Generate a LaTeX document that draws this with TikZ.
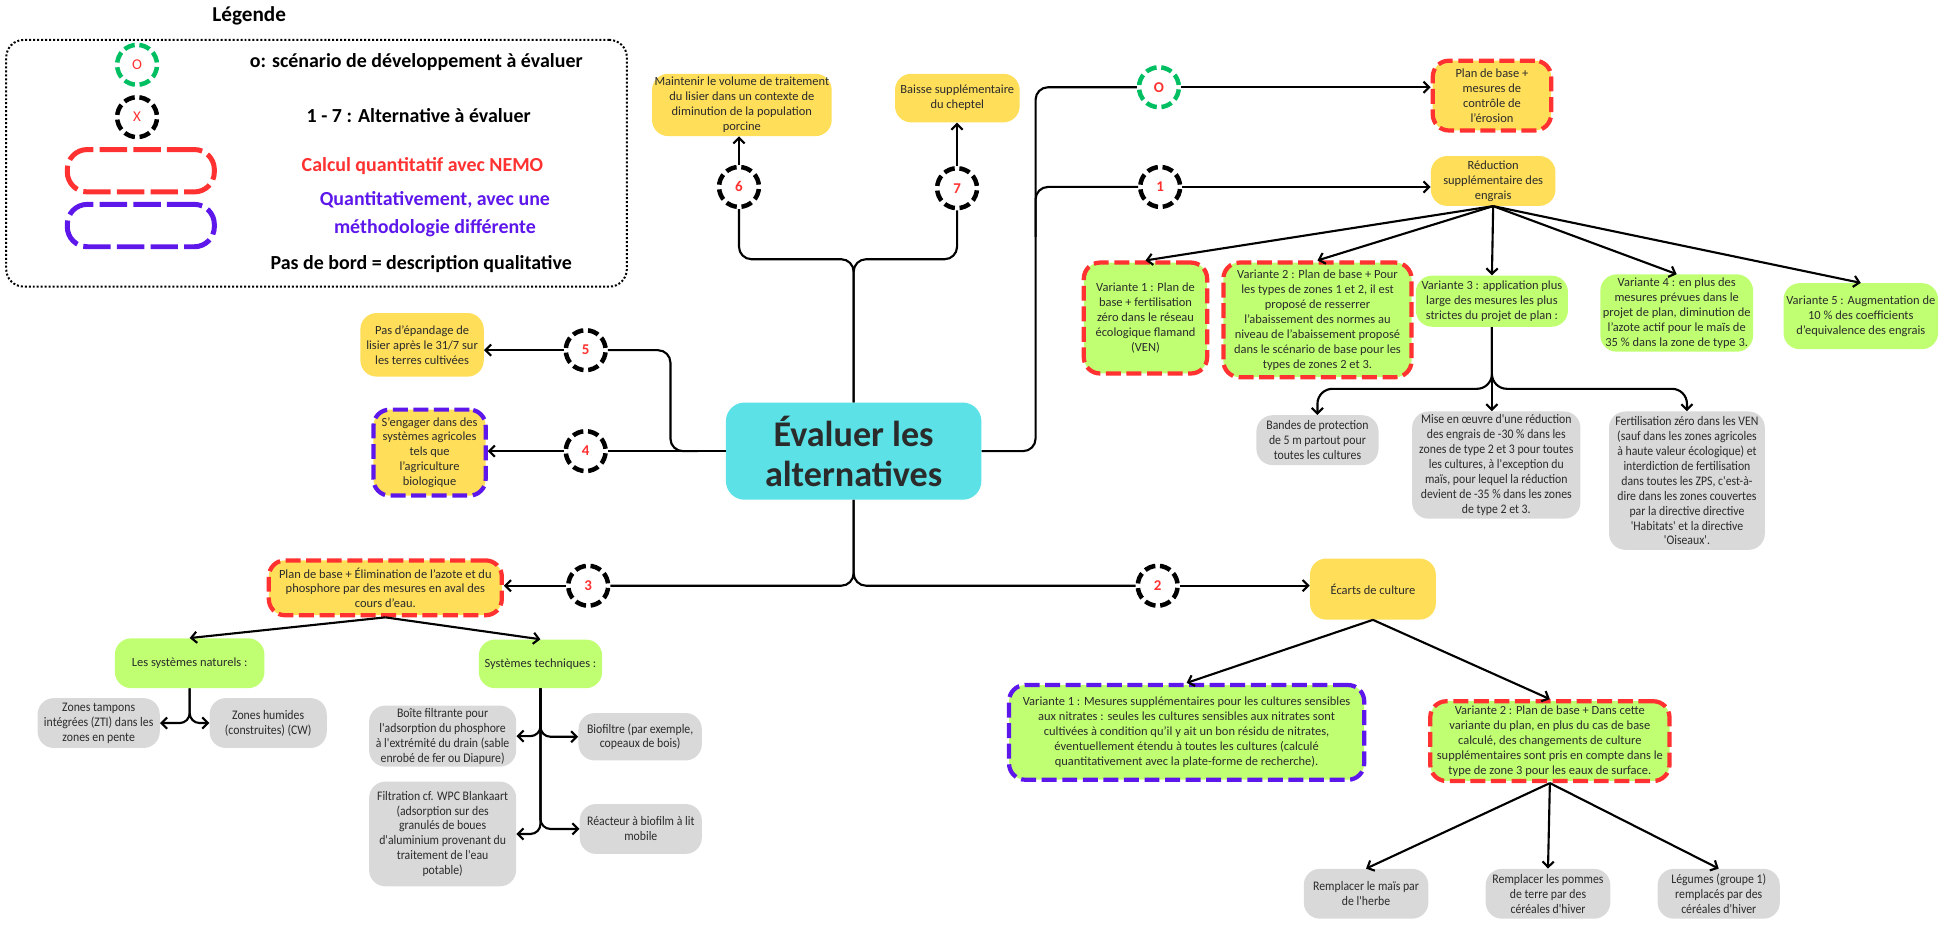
\documentclass[tikz,border=0pt]{standalone}
\usepackage{fontspec}
\setmainfont{Carlito}
\newfontfamily\condf[FakeStretch=0.9]{Carlito}
\usetikzlibrary{arrows.meta,calc}
\definecolor{cyel}{HTML}{FFDE59}
\definecolor{cgrn}{HTML}{C1FF72}
\definecolor{cgry}{HTML}{D9D9D9}
\definecolor{ccyan}{HTML}{5CE1E6}
\definecolor{cred}{HTML}{FF3131}
\definecolor{cpur}{HTML}{5E17EB}
\definecolor{cgreen}{HTML}{00BF63}
\definecolor{ctxt}{HTML}{2B2B2B}
\begin{document}
\begin{tikzpicture}[x=1pt,y=-1pt,
  box/.style={rounded corners=13pt, align=center, inner sep=2pt, anchor=north west, text=ctxt, font=\fontsize{10}{12}\selectfont},
  yel/.style={box, fill=cyel},
  grn/.style={box, fill=cgrn},
  gry/.style={box, fill=cgry, font=\condf\fontsize{10.5}{12}\selectfont},
  rbord/.style={draw=cred, line width=3.4pt, dash pattern=on 12pt off 4.5pt},
  pbord/.style={draw=cpur, line width=3.4pt, dash pattern=on 12pt off 4.5pt},
  num/.style={circle, minimum size=32pt, inner sep=0pt, draw=black, fill=white, line width=3.6pt, dash pattern=on 8.8pt off 3.77pt, dash phase=10.7pt, text=cred, font=\bfseries\fontsize{12}{13}\selectfont},
  legt/.style={font=\bfseries\fontsize{16}{22}\selectfont, text=black, align=center},
  legr/.style={rounded corners=16pt, line width=4pt, dash pattern=on 22pt off 5pt, minimum width=118pt, minimum height=34pt},
  con/.style={line width=1.7pt, draw=black},
  arr/.style={con, -{Straight Barb[length=4.5pt,width=9pt]}},
]
\useasboundingbox (0,0) rectangle (1568,745);

% ---------------- legend ----------------
\node[font=\bfseries\fontsize{17}{20}\selectfont] (leg) at (200,13) {Légende};
\node[draw, line width=1.6pt, dash pattern=on 1.6pt off 1.6pt, rounded corners=14pt, minimum width=498pt, minimum height=198pt] (legbox) at (254,131) {};
\node[num, draw=cgreen, font=\fontsize{12}{13}\selectfont] (lgO) at (110,52) {O};
\node[num, font=\fontsize{12}{13}\selectfont] (lgX) at (110,94) {X};
\node[legr, draw=cred] (lgR) at (113,137) {};
\node[legr, draw=cpur] (lgP) at (113,181) {};
\node[legt] (lt1) at (334,50) {o: scénario de développement à évaluer};
\node[legt] (lt2) at (336,93) {1 - 7 : Alternative à évaluer};
\node[legt, text=cred] (lt3) at (339,133) {Calcul quantitatif avec NEMO};
\node[legt, text=cpur] (lt4) at (349,172) {Quantitativement, avec une\\méthodologie différente};
\node[legt] (lt5) at (338,212) {Pas de bord = description qualitative};

% ---------------- centre ----------------
\node[box, anchor=center, fill=ccyan, minimum width=205pt, minimum height=78pt, rounded corners=15pt, font=\bfseries\fontsize{29}{32}\selectfont] (ctr) at (685,362) {Évaluer les\\alternatives};

% ---------------- circles ----------------
\node[num] (c6) at (593,150) {6};
\node[num] (c7) at (768,151) {7};
\node[num, draw=cgreen] (cO) at (930,70) {O};
\node[num] (c1) at (931,150) {1};
\node[num] (c5) at (470,281) {5};
\node[num] (c4) at (470,362) {4};
\node[num] (c3) at (472,470) {3};
\node[num] (c2) at (929,470) {2};

% ---------------- first level ----------------
\node[yel, minimum width=141pt, minimum height=50pt] (n6) at (523,59) {Maintenir le volume de traitement\\du lisier dans un contexte de\\diminution de la population\\porcine};
\node[yel, minimum width=100pt, minimum height=39pt] (n7) at (718,59) {Baisse supplémentaire\\du cheptel};
\node[yel, rbord, minimum width=95pt, minimum height=56pt] (nO) at (1148,47) {Plan de base +\\mesures de\\contrôle de\\l'érosion};
\node[yel, minimum width=100pt, minimum height=40pt] (n1) at (1148,125) {Réduction\\supplémentaire des\\engrais};
\node[yel, minimum width=99pt, minimum height=51pt] (n5) at (289,251) {Pas d'épandage de\\lisier après le 31/7 sur\\les terres cultivées};
\node[yel, pbord, minimum width=90pt, minimum height=69pt] (n4) at (298,327) {S'engager dans des\\systèmes agricoles\\tels que\\l'agriculture\\biologique};
\node[yel, rbord, minimum width=187pt, minimum height=44pt] (n3) at (214,448) {Plan de base + Élimination de l'azote et du\\phosphore par des mesures en aval des\\cours d'eau.};
\node[yel, minimum width=101pt, minimum height=49pt] (n2) at (1051,448) {Écarts de culture};

% ---------------- variants of 1 ----------------
\node[grn, rbord, minimum width=99pt, minimum height=89pt] (v1) at (868,209) {Variante 1 : Plan de\\base + fertilisation\\zéro dans le réseau\\écologique flamand\\(VEN)};
\node[grn, rbord, minimum width=151pt, minimum height=92pt] (v2) at (980,209) {Variante 2 : Plan de base + Pour\\les types de zones 1 et 2, il est\\proposé de resserrer\\l'abaissement des normes au\\niveau de l'abaissement proposé\\dans le scénario de base pour les\\types de zones 2 et 3.};
\node[grn, minimum width=122pt, minimum height=41pt] (v3) at (1136,221) {Variante 3 : application plus\\large des mesures les plus\\strictes du projet de plan :};
\node[grn, minimum width=122pt, minimum height=62pt] (v4) at (1284,220) {Variante 4 : en plus des\\mesures prévues dans le\\projet de plan, diminution de\\l'azote actif pour le maïs de\\35 \% dans la zone de type 3.};
\node[grn, minimum width=124pt, minimum height=53pt] (v5) at (1431,227) {Variante 5 : Augmentation de\\10 \% des coefficients\\d'equivalence des engrais};

\node[gry, minimum width=98pt, minimum height=40pt] (g1) at (1008,333) {Bandes de protection\\de 5 m partout pour\\toutes les cultures};
\node[gry, minimum width=135pt, minimum height=86pt] (g2) at (1133,330) {Mise en œuvre d'une réduction\\des engrais de -30 \% dans les\\zones de type 2 et 3 pour toutes\\les cultures, à l'exception du\\maïs, pour lequel la réduction\\devient de -35 \% dans les zones\\de type 2 et 3.};
\node[gry, minimum width=125pt, minimum height=111pt] (g3) at (1291,330) {Fertilisation zéro dans les VEN\\(sauf dans les zones agricoles\\à haute valeur écologique) et\\interdiction de fertilisation\\dans toutes les ZPS, c'est-à-\\dire dans les zones couvertes\\par la directive directive\\'Habitats' et la directive\\'Oiseaux'.};

% ---------------- variants of 2 ----------------
\node[grn, pbord, minimum width=285pt, minimum height=76pt] (nv1) at (808,548) {Variante 1 : Mesures supplémentaires pour les cultures sensibles\\aux nitrates : seules les cultures sensibles aux nitrates sont\\cultivées à condition qu'il y ait un bon résidu de nitrates,\\éventuellement étendu à toutes les cultures (calculé\\quantitativement avec la plate-forme de recherche).};
\node[grn, rbord, minimum width=192pt, minimum height=64pt] (nv2) at (1146,561) {Variante 2 : Plan de base + Dans cette\\variante du plan, en plus du cas de base\\calculé, des changements de culture\\supplémentaires sont pris en compte dans le\\type de zone 3 pour les eaux de surface.};
\node[gry, minimum width=100pt, minimum height=40pt] (r1) at (1046,697) {Remplacer le maïs par\\de l'herbe};
\node[gry, minimum width=100pt, minimum height=40pt] (r2) at (1192,697) {Remplacer les pommes\\de terre par des\\céréales d'hiver};
\node[gry, minimum width=98pt, minimum height=40pt] (r3) at (1330,697) {Légumes (groupe 1)\\remplacés par des\\céréales d'hiver};

% ---------------- branch 3 ----------------
\node[grn, minimum width=120pt, minimum height=40pt] (s1) at (92,512) {Les systèmes naturels :};
\node[grn, minimum width=99pt, minimum height=39pt] (s2) at (384,513) {Systèmes techniques :};
\node[gry, minimum width=98pt, minimum height=40pt] (z1) at (30,560) {Zones tampons\\intégrées (ZTI) dans les\\zones en pente};
\node[gry, minimum width=94pt, minimum height=40pt] (z2) at (168,560) {Zones humides\\(construites) (CW)};
\node[gry, minimum width=118pt, minimum height=49pt] (t1) at (296,566) {Boîte filtrante pour\\l'adsorption du phosphore\\à l'extrémité du drain (sable\\enrobé de fer ou Diapure)};
\node[gry, minimum width=118pt, minimum height=84pt] (t2) at (296,627) {Filtration cf. WPC Blankaart\\(adsorption sur des\\granulés de boues\\d'aluminium provenant du\\traitement de l'eau\\potable)};
\node[gry, minimum width=99pt, minimum height=38pt] (t3) at (464,572) {Biofiltre (par exemple,\\copeaux de bois)};
\node[gry, minimum width=98pt, minimum height=40pt] (t4) at (465,645) {Réacteur à biofilm à lit\\mobile};

% ---------------- connectors ----------------
% top
\draw[con, rounded corners=10pt] (c6.south) |- (685,208) -- (ctr.north);
\draw[con, rounded corners=10pt] (c7.south) |- (685,208) -- (ctr.north);
\draw[arr] (c6.north) -- (c6.north |- n6.south);
\draw[arr] (c7.north) -- (c7.north |- n7.south);
% right
\draw[con, rounded corners=10pt] (ctr.east) -- (831,362) -- (831,70) -- (cO.west);
\draw[con, rounded corners=10pt] (831,190) |- (c1.west);
\draw[arr] (cO.east) -- (cO.east -| nO.west);
\draw[arr] (c1.east) -- (c1.east -| n1.west);
% left
\draw[con] (ctr.west) -- (c4.east);
\draw[con, rounded corners=10pt] (560,362) -- (538,362) -- (538,281) -- (c5.east);
\draw[arr] (c5.west) -- (c5.west -| n5.east);
\draw[arr] (c4.west) -- (c4.west -| n4.east);
% bottom
\draw[con, rounded corners=10pt] (ctr.south) |- (c3.east);
\draw[con, rounded corners=10pt] (ctr.south) |- (c2.west);
\draw[arr] (c3.west) -- (c3.west -| n3.east);
\draw[arr] (c2.east) -- (c2.east -| n2.west);
% fertiliser variants
\foreach \t in {v1,v2,v3,v4,v5} \draw[arr] (n1.south) -- (\t.north);
\draw[arr] (v3.south) -- (v3.south |- g2.north);
\draw[arr, rounded corners=12pt] (v3.south) |- (g1.north |- 0,312) -- (g1.north);
\draw[arr, rounded corners=12pt] (v3.south) |- (g3.north |- 0,312) -- (g3.north);
% crop deviations
\draw[arr] (n2.south) -- (nv1.north);
\draw[arr] (n2.south) -- (nv2.north);
\foreach \t in {r1,r2,r3} \draw[arr] (nv2.south) -- (\t.north);
% downstream measures
\draw[arr] (n3.south) -- (s1.north);
\draw[arr] (n3.south) -- (s2.north);
\draw[arr, rounded corners=8pt] (s1.south) |- (z1.east);
\draw[arr, rounded corners=8pt] (s1.south) |- (z2.west);
\draw[arr, rounded corners=8pt] (s2.south) |- (t1.east);
\draw[arr, rounded corners=8pt] (s2.south) |- (t3.west);
\draw[arr, rounded corners=8pt] (s2.south) |- (t2.east);
\draw[arr, rounded corners=8pt] (s2.south) |- (t4.west);
\end{tikzpicture}
\end{document}
